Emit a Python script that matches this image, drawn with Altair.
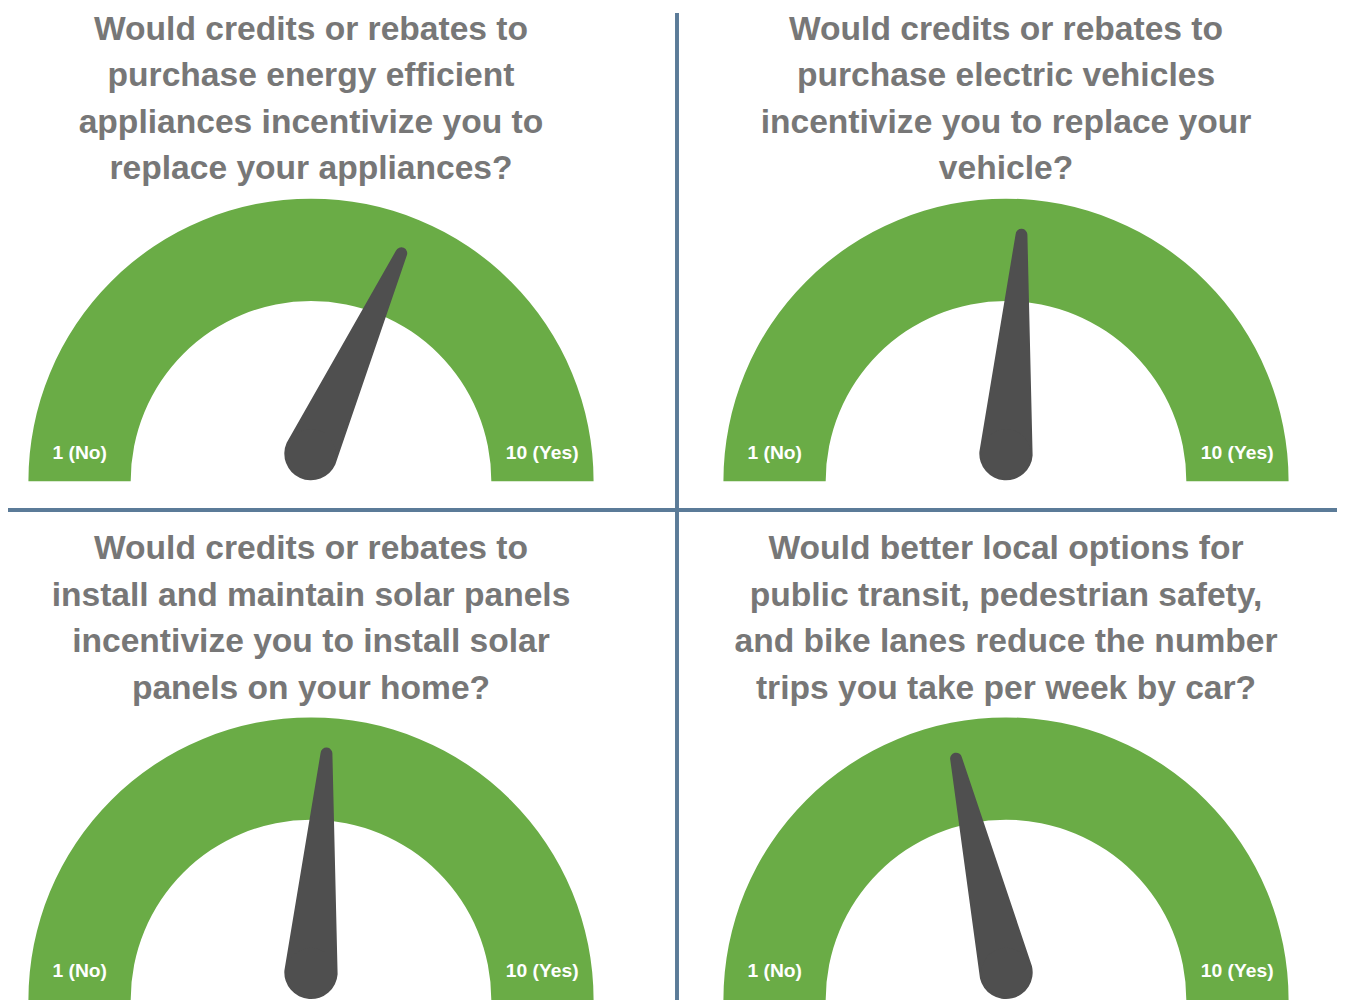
import math
import altair as alt
import pandas as pd

# ---------------- data ----------------
questions = [
    ["Would credits or rebates to", "purchase energy efficient",
     "appliances incentivize you to", "replace your appliances?"],
    ["Would credits or rebates to", "purchase electric vehicles",
     "incentivize you to replace your", "vehicle?"],
    ["Would credits or rebates to", "install and maintain solar panels",
     "incentivize you to install solar", "panels on your home?"],
    ["Would better local options for", "public transit, pedestrian safety,",
     "and bike lanes reduce the number", "trips you take per week by car?"],
]
scores = [6.7, 5.7, 5.7, 4.85]
scale_min = 1
scale_max = 10
min_label = "1 (No)"
max_label = "10 (Yes)"

# ---------------- layout (reference pixel units) ----------------
X0, X1 = 8, 1337          # reference x range shown in the view
Y0, Y1 = 0, 1004          # reference y range shown in the view
W, H = 1329, 992
K = H / (Y1 - Y0)
COL_X = [311, 1006]
ROW_BASE = [479, 1004]
TITLE_TOP = [22, 548]
R_OUT = 286
R_IN = 182.5
PIVOT_UP = 28
NEEDLE_LEN = 222
BULB_R = 28
NEEDLE_W0 = 54
NEEDLE_W1 = 12
LABEL_UP = 29
LABEL_IN = 3
SEP_X = 677
SEP_Y = 508

GREEN = "#6aac46"
NEEDLE = "#4f4f4f"
TITLE_C = "#777777"
SEP_C = "#5b7b98"

# ---------------- tables ----------------
panels = []
for i, (q, s) in enumerate(zip(questions, scores)):
    panels.append(dict(panel=i, cx=COL_X[i % 2], base=ROW_BASE[i // 2],
                       pivot=ROW_BASE[i // 2] - PIVOT_UP, ty=TITLE_TOP[i // 2],
                       title="\n".join(q), score=s, lo=scale_min, hi=scale_max))
gauges = pd.DataFrame(panels)

needle_rows = []
for p in panels:
    for part, (r, w) in enumerate([(0, NEEDLE_W0 * K), (NEEDLE_LEN, NEEDLE_W1 * K)]):
        needle_rows.append(dict(panel=p["panel"], cx=p["cx"], pivot=p["pivot"],
                                score=p["score"], r=r, w=w, part=part))
needles = pd.DataFrame(needle_rows)

label_rows = []
r_mid = (R_IN + R_OUT) / 2 - LABEL_IN
for p in panels:
    for txt, v in [(min_label, scale_min), (max_label, scale_max)]:
        label_rows.append(dict(panel=p["panel"], cx=p["cx"], base=p["base"], v=v, text=txt))
labels = pd.DataFrame(label_rows)

seps = pd.DataFrame([
    dict(x=SEP_X, y=5, x2=SEP_X, y2=1008),
    dict(x=3, y=SEP_Y, x2=1345, y2=SEP_Y),
])

xs = alt.Scale(domain=[X0, X1], nice=False, zero=False)
ys = alt.Scale(domain=[Y0, Y1], nice=False, zero=False, reverse=True)

arc = alt.Chart(gauges).mark_arc(
    innerRadius=R_IN * K, outerRadius=R_OUT * K, color=GREEN
).encode(
    x=alt.X("cx:Q", scale=xs, axis=None),
    y=alt.Y("base:Q", scale=ys, axis=None),
    theta=alt.Theta("lo:Q", stack=False,
                    scale=alt.Scale(domain=[scale_min, scale_max],
                                    range=[1.5 * math.pi, 2.5 * math.pi])),
    theta2=alt.Theta2("hi:Q"),
)

span = scale_max - scale_min
needle = alt.Chart(needles).transform_calculate(
    ang=f"PI * (datum.score - {scale_min}) / {span}",
).transform_calculate(
    nx="datum.cx - cos(datum.ang) * datum.r",
    ny="datum.pivot - sin(datum.ang) * datum.r",
).mark_trail(color=NEEDLE).encode(
    x=alt.X("nx:Q", scale=xs, axis=None),
    y=alt.Y("ny:Q", scale=ys, axis=None),
    size=alt.Size("w:Q", scale=None),
    detail="panel:N",
    order="part:Q",
)

bulb = alt.Chart(gauges).mark_circle(
    color=NEEDLE, opacity=1, size=math.pi * (BULB_R * K) ** 2
).encode(
    x=alt.X("cx:Q", scale=xs, axis=None),
    y=alt.Y("pivot:Q", scale=ys, axis=None),
)

lab = alt.Chart(labels).transform_calculate(
    ang=f"PI * (datum.v - {scale_min}) / {span}",
).transform_calculate(
    lx=f"datum.cx - cos(datum.ang) * {r_mid}",
    ly=f"datum.base - {LABEL_UP}",
).mark_text(
    font="Liberation Sans", fontWeight="bold", fontSize=19.5 * K, color="white",
    align="center", baseline="middle",
).encode(
    x=alt.X("lx:Q", scale=xs, axis=None),
    y=alt.Y("ly:Q", scale=ys, axis=None),
    text="text:N",
)

titles = alt.Chart(gauges).mark_text(
    font="Liberation Sans", fontWeight="bold", fontSize=34 * K, color=TITLE_C,
    align="center", baseline="middle", lineBreak="\n", lineHeight=47 * K,
).encode(
    x=alt.X("cx:Q", scale=xs, axis=None),
    y=alt.Y("ty:Q", scale=ys, axis=None),
    text="title:N",
)

sep = alt.Chart(seps).mark_rule(color=SEP_C, strokeWidth=4 * K).encode(
    x=alt.X("x:Q", scale=xs, axis=None),
    y=alt.Y("y:Q", scale=ys, axis=None),
    x2="x2:Q",
    y2="y2:Q",
)

chart = alt.layer(sep, arc, needle, bulb, lab, titles).properties(
    width=W, height=H, padding=0, background="white",
    autosize=alt.AutoSizeParams(type="none"),
).configure_view(strokeWidth=0)

chart.save("out.html", embed_options={"renderer": "svg", "actions": False})
